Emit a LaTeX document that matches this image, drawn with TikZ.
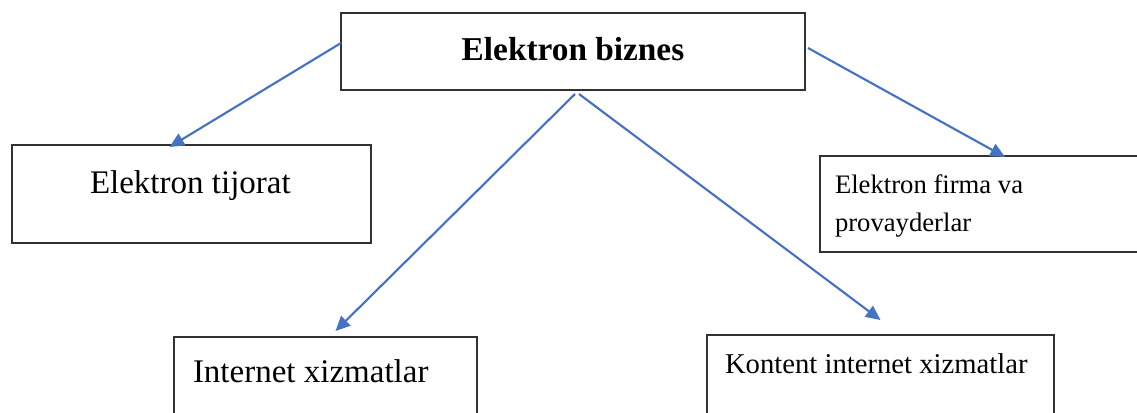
\documentclass[tikz,border=0pt]{standalone}
\usepackage{fontspec}
\setmainfont{Liberation Serif}
\usetikzlibrary{arrows.meta,calc}
\definecolor{arrowblue}{RGB}{68,114,196}
\definecolor{boxline}{RGB}{50,50,50}
\begin{document}
\begin{tikzpicture}[x=0.75pt,y=-0.75pt,
  box/.style={draw=boxline, line width=1.1pt, rectangle, inner sep=0pt, outer sep=0pt, fill=white},
  lbl/.style={inner sep=0pt, outer sep=0pt, anchor=base west, text=black},
  conn/.style={draw=arrowblue, line width=1.6pt, -{Triangle[length=11pt,width=10pt]}}]
\useasboundingbox (0,0) rectangle (1137,412);
\clip (0,0) rectangle (1137,412);
% boxes
\node[box, minimum width=348pt, minimum height=57.75pt] (top) at (573,51.5) {};
\node[box, minimum width=269.25pt, minimum height=73.5pt] (lt) at (191.5,194) {};
\node[box, minimum width=247.5pt, minimum height=72pt] (rt) at (985,204) {};
\node[box, minimum width=227.25pt, minimum height=69.75pt] (bl) at (325.5,383.5) {};
\node[box, minimum width=260.25pt, minimum height=71.25pt] (br) at (880.5,382.5) {};
% texts
\node[inner sep=0pt, anchor=base, font=\fontsize{25}{30}\selectfont\bfseries] (ttop) at (573,60) {Elektron biznes};
\node[lbl, font=\fontsize{24.75}{30}\selectfont] (tlt) at (90,193) {Elektron tijorat};
\node[lbl, font=\fontsize{20}{24}\selectfont] (trt1) at (835,193) {Elektron firma va};
\node[lbl, font=\fontsize{20}{24}\selectfont] (trt2) at (835,231) {provayderlar};
\node[lbl, font=\fontsize{24.75}{30}\selectfont] (tbl) at (193,382) {Internet xizmatlar};
\node[lbl, font=\fontsize{21.5}{26}\selectfont] (tbr) at (725,373) {Kontent internet xizmatlar};
% connectors
\draw[conn] ($(top.north west)+(0,30)$) -- ($(lt.north)+(-22,2)$);
\draw[conn] ($(top.south)+(2,4)$) -- ($(bl.north)+(10,-6)$);
\draw[conn] ($(top.south)+(6,4)$) -- ($(br.north)+(0,-15)$);
\draw[conn] ($(top.north east)+(3,35)$) -- ($(rt.north west)+(185,1)$);
\end{tikzpicture}
\end{document}
